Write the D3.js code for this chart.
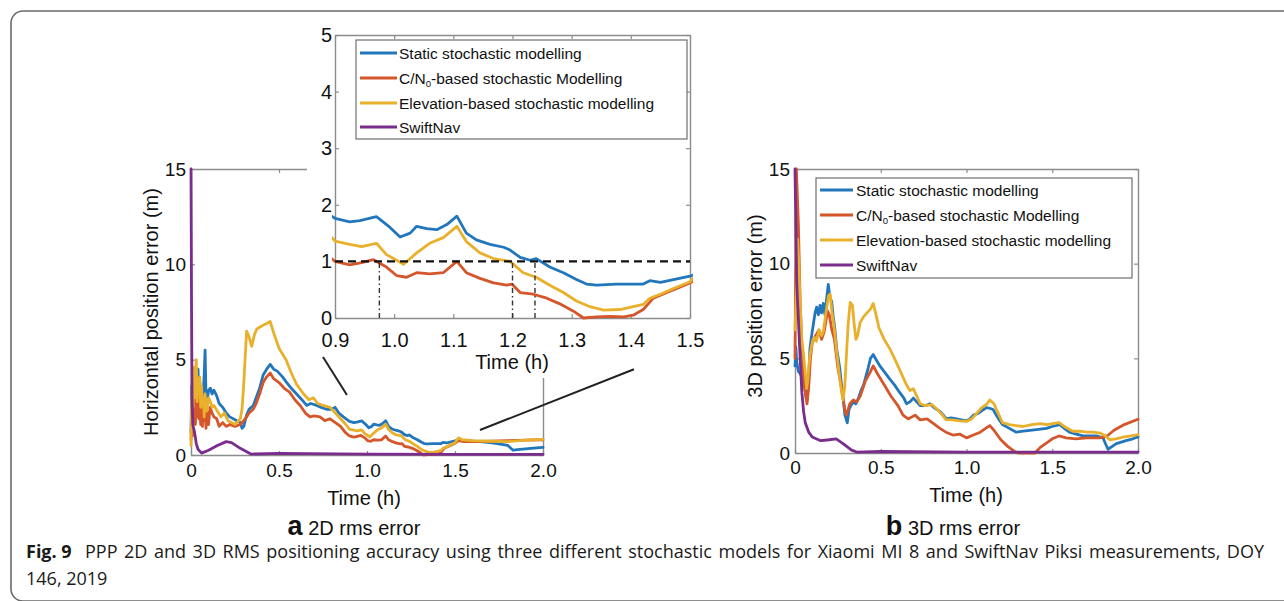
<!DOCTYPE html>
<html>
<head>
<meta charset="utf-8">
<script src="https://cdn.jsdelivr.net/npm/d3@7"></script>
<style>
  body { margin: 0; background: #fff; }
  svg { display: block; }
</style>
</head>
<body>
<svg id="fig" width="1284" height="601"></svg>
<script>
// ---------- data: [time (h), error (m)] ----------
const static2D = [[0,1.2],[0.004,3.6],[0.008,2.2],[0.012,4.1],[0.016,2.8],[0.02,4.4],[0.025,2.6],[0.03,3.9],[0.035,3.0],[0.04,4.5],[0.045,2.9],[0.05,3.8],[0.055,2.7],[0.06,3.5],[0.065,2.4],[0.07,3.3],[0.075,4.2],[0.08,5.5],[0.085,3.2],[0.09,2.6],[0.1,3.4],[0.11,3.5],[0.12,3.2],[0.13,3.4],[0.146,3.1],[0.16,2.7],[0.18,2.5],[0.2,2.2],[0.22,2.0],[0.24,1.9],[0.26,1.8],[0.28,1.7],[0.29,1.4],[0.3,1.5],[0.316,2.1],[0.33,2.4],[0.354,2.6],[0.37,3.0],[0.39,3.5],[0.41,4.2],[0.43,4.5],[0.45,4.75],[0.47,4.5],[0.49,4.4],[0.52,4.1],[0.544,3.8],[0.57,3.5],[0.6,3.2],[0.63,2.9],[0.657,2.6],[0.68,2.7],[0.714,2.6],[0.74,2.5],[0.77,2.4],[0.8,2.4],[0.818,2.5],[0.84,2.2],[0.866,2.0],[0.9,1.76],[0.925,1.70],[0.942,1.72],[0.97,1.79],[0.993,1.6],[1.01,1.43],[1.027,1.5],[1.038,1.62],[1.055,1.58],[1.072,1.56],[1.089,1.65],[1.106,1.8],[1.122,1.5],[1.139,1.38],[1.162,1.30],[1.185,1.25],[1.196,1.2],[1.213,1.07],[1.23,1.02],[1.24,1.05],[1.263,0.9],[1.286,0.8],[1.308,0.68],[1.325,0.6],[1.342,0.58],[1.376,0.6],[1.404,0.6],[1.421,0.6],[1.432,0.66],[1.45,0.63],[1.472,0.68],[1.5,0.74],[1.52,0.8],[1.547,0.75],[1.6,0.72],[1.64,0.7],[1.7,0.65],[1.74,0.6],[1.8,0.5],[1.83,0.25],[1.87,0.3],[1.93,0.35],[2.0,0.4]];

const cn02D = [[0,0.8],[0.004,2.0],[0.008,1.0],[0.012,3.0],[0.016,1.8],[0.02,3.3],[0.025,1.6],[0.03,2.8],[0.035,2.0],[0.04,3.2],[0.045,1.9],[0.05,2.9],[0.055,1.6],[0.06,2.4],[0.065,1.5],[0.07,2.6],[0.075,1.8],[0.08,2.7],[0.085,1.4],[0.09,2.3],[0.1,1.6],[0.108,2.5],[0.12,2.2],[0.13,2.0],[0.146,1.9],[0.16,1.5],[0.18,1.7],[0.2,1.5],[0.22,1.6],[0.25,1.5],[0.28,1.6],[0.3,1.8],[0.316,2.0],[0.33,2.2],[0.354,2.4],[0.37,2.7],[0.39,3.2],[0.41,3.8],[0.43,4.1],[0.45,4.3],[0.47,4.0],[0.5,3.8],[0.53,3.5],[0.56,3.3],[0.59,2.9],[0.62,2.6],[0.65,2.2],[0.676,2.0],[0.7,2.05],[0.733,2.0],[0.76,1.8],[0.79,1.9],[0.82,1.7],[0.85,1.5],[0.875,1.2],[0.9,1.0],[0.925,0.94],[0.945,0.98],[0.965,1.03],[0.987,0.9],[1.004,0.75],[1.021,0.72],[1.038,0.8],[1.06,0.78],[1.083,0.8],[1.106,1.0],[1.122,0.8],[1.145,0.7],[1.168,0.62],[1.19,0.58],[1.199,0.6],[1.213,0.45],[1.235,0.42],[1.258,0.35],[1.28,0.25],[1.303,0.12],[1.32,0.0],[1.342,0.02],[1.365,0.03],[1.388,0.02],[1.404,0.05],[1.421,0.15],[1.438,0.35],[1.461,0.45],[1.5,0.62],[1.52,0.75],[1.55,0.7],[1.6,0.7],[1.7,0.72],[1.8,0.75],[1.9,0.78],[2.0,0.8]];

const elev2D = [[0,0.5],[0.004,3.0],[0.008,4.0],[0.012,2.5],[0.016,4.6],[0.02,3.0],[0.025,4.2],[0.03,5.0],[0.035,2.8],[0.04,4.0],[0.045,3.3],[0.05,4.1],[0.055,2.5],[0.06,3.6],[0.065,2.6],[0.07,3.0],[0.075,2.0],[0.08,3.2],[0.09,2.3],[0.1,3.0],[0.11,2.8],[0.12,2.5],[0.13,2.6],[0.15,2.3],[0.17,2.0],[0.19,2.2],[0.21,1.8],[0.23,1.7],[0.25,1.6],[0.27,1.8],[0.28,1.9],[0.29,2.4],[0.3,3.8],[0.316,6.5],[0.33,6.2],[0.345,5.7],[0.36,6.3],[0.373,6.6],[0.39,6.7],[0.41,6.8],[0.43,6.9],[0.45,7.0],[0.47,6.4],[0.5,5.6],[0.54,5.0],[0.57,4.3],[0.6,3.7],[0.64,3.2],[0.67,2.9],[0.695,3.0],[0.72,2.7],[0.75,2.6],[0.79,2.5],[0.82,2.2],[0.85,1.9],[0.88,1.6],[0.9,1.36],[0.925,1.30],[0.945,1.26],[0.97,1.32],[0.987,1.12],[1.004,1.02],[1.016,0.95],[1.038,1.15],[1.06,1.32],[1.083,1.42],[1.106,1.62],[1.122,1.35],[1.145,1.15],[1.168,1.05],[1.196,1.0],[1.218,0.8],[1.24,0.72],[1.263,0.58],[1.286,0.45],[1.308,0.3],[1.331,0.2],[1.354,0.14],[1.382,0.15],[1.404,0.2],[1.421,0.24],[1.432,0.35],[1.45,0.42],[1.472,0.52],[1.5,0.64],[1.52,0.9],[1.54,0.8],[1.6,0.75],[1.7,0.72],[1.8,0.7],[1.9,0.78],[2.0,0.82]];

const swift2D = [[0,15],[0.003,8],[0.006,3],[0.01,1.6],[0.02,1.2],[0.03,0.6],[0.04,0.3],[0.06,0.1],[0.1,0.25],[0.15,0.5],[0.2,0.7],[0.23,0.65],[0.28,0.35],[0.34,0.05],[0.5,0.08],[1.0,0.05],[1.5,0.03],[2.0,0.03]];

const static3D = [[0,4.6],[0.005,5.6],[0.01,4.8],[0.02,4.3],[0.03,4.2],[0.04,4.0],[0.05,3.6],[0.058,3.4],[0.065,2.9],[0.07,2.8],[0.078,3.5],[0.087,5.5],[0.097,6.2],[0.107,6.8],[0.117,7.4],[0.126,7.7],[0.136,7.3],[0.146,7.8],[0.155,7.4],[0.165,7.9],[0.175,7.3],[0.185,8.2],[0.194,8.9],[0.204,8.2],[0.214,8.0],[0.223,7.2],[0.233,6.5],[0.243,5.5],[0.252,5.0],[0.262,4.4],[0.272,3.5],[0.282,2.8],[0.291,2.0],[0.305,1.6],[0.315,2.3],[0.325,2.5],[0.34,2.7],[0.355,2.6],[0.37,2.9],[0.385,3.3],[0.4,3.6],[0.415,4.1],[0.427,4.5],[0.44,5.0],[0.456,5.2],[0.475,4.9],[0.495,4.6],[0.52,4.3],[0.553,3.9],[0.58,3.6],[0.61,3.2],[0.635,2.9],[0.65,2.6],[0.67,2.7],[0.69,2.9],[0.71,2.7],[0.73,2.5],[0.76,2.5],[0.786,2.6],[0.81,2.4],[0.845,2.2],[0.865,2.0],[0.883,1.8],[0.91,1.85],[0.942,1.8],[0.97,1.75],[1.0,1.7],[1.02,1.8],[1.04,2.0],[1.07,2.1],[1.1,2.3],[1.117,2.4],[1.14,2.35],[1.155,2.3],[1.18,1.9],[1.21,1.5],[1.25,1.3],[1.29,1.1],[1.33,1.15],[1.37,1.2],[1.42,1.25],[1.466,1.3],[1.5,1.4],[1.544,1.5],[1.57,1.3],[1.6,1.1],[1.64,1.0],[1.68,0.9],[1.72,0.9],[1.757,0.9],[1.796,0.8],[1.81,0.5],[1.825,0.2],[1.85,0.35],[1.874,0.5],[1.93,0.65],[1.97,0.75],[2.0,0.85]];

const cn03D = [[0,5.0],[0.008,15],[0.02,12],[0.03,8],[0.04,5.5],[0.055,3.5],[0.07,2.6],[0.08,3.5],[0.09,5.0],[0.1,5.8],[0.12,6.2],[0.14,6.5],[0.155,6.0],[0.17,6.4],[0.19,7.5],[0.2,7.3],[0.215,6.5],[0.23,6.0],[0.25,4.5],[0.27,3.5],[0.29,2.3],[0.3,2.0],[0.32,2.6],[0.34,2.8],[0.36,2.7],[0.38,3.0],[0.41,3.8],[0.44,4.3],[0.456,4.6],[0.48,4.2],[0.52,3.6],[0.56,3.0],[0.6,2.5],[0.63,2.0],[0.66,1.8],[0.7,2.0],[0.73,1.75],[0.77,1.8],[0.8,1.6],[0.845,1.3],[0.88,1.1],[0.92,0.95],[0.96,1.0],[1.0,0.8],[1.04,0.95],[1.08,1.1],[1.12,1.35],[1.136,1.45],[1.16,1.2],[1.2,0.7],[1.24,0.35],[1.28,0.08],[1.3,0.0],[1.4,0.0],[1.43,0.3],[1.47,0.55],[1.5,0.75],[1.54,0.9],[1.58,0.8],[1.64,0.75],[1.7,0.8],[1.78,0.8],[1.82,0.9],[1.86,1.2],[1.92,1.5],[2.0,1.78]];

const elev3D = [[0,6.5],[0.008,8.5],[0.015,11.3],[0.022,10],[0.03,8],[0.04,6],[0.05,5.2],[0.06,4.2],[0.068,3.4],[0.075,3.9],[0.085,5.0],[0.095,5.6],[0.105,6.0],[0.115,6.1],[0.125,5.9],[0.14,6.5],[0.155,6.2],[0.165,6.4],[0.18,7.4],[0.195,8.3],[0.205,8.4],[0.215,7.5],[0.23,6.5],[0.245,5.2],[0.26,4.0],[0.272,3.2],[0.28,2.8],[0.29,3.5],[0.3,5.2],[0.31,6.8],[0.322,7.95],[0.335,7.8],[0.345,6.8],[0.355,6.0],[0.365,6.2],[0.38,6.9],[0.4,7.2],[0.42,7.4],[0.44,7.6],[0.456,7.9],[0.47,7.4],[0.49,6.6],[0.52,6.0],[0.553,5.5],[0.58,5.0],[0.61,4.4],[0.63,4.0],[0.65,3.6],[0.67,3.3],[0.69,3.4],[0.71,3.0],[0.73,2.6],[0.76,2.5],[0.8,2.55],[0.83,2.3],[0.86,2.0],[0.88,1.76],[0.92,1.75],[0.96,1.7],[1.0,1.67],[1.03,1.8],[1.06,2.1],[1.09,2.4],[1.12,2.6],[1.136,2.8],[1.16,2.6],[1.18,2.2],[1.21,1.6],[1.25,1.5],[1.29,1.45],[1.33,1.4],[1.38,1.5],[1.43,1.55],[1.47,1.5],[1.5,1.55],[1.54,1.6],[1.57,1.4],[1.62,1.15],[1.66,1.15],[1.7,1.1],[1.74,1.1],[1.78,1.05],[1.81,0.9],[1.835,0.7],[1.87,0.75],[1.92,0.85],[1.96,0.9],[2.0,0.97]];

const swift3D = [[0,15],[0.005,12],[0.01,9],[0.02,7],[0.03,5],[0.04,3.2],[0.05,2.2],[0.06,1.6],[0.08,1.1],[0.1,0.85],[0.15,0.65],[0.2,0.7],[0.24,0.75],[0.28,0.5],[0.33,0.15],[0.36,0.05],[0.5,0.08],[1.0,0.05],[2.0,0.05]];

// ---------- labels / ticks ----------
const seriesNames = ["Static stochastic modelling", "C/N0-based stochastic Modelling", "Elevation-based stochastic modelling", "SwiftNav"];
const seriesColors = ["#2276bb", "#d4562a", "#e9b02c", "#7a2d8c"];
const timeTicks = [0, 0.5, 1.0, 1.5, 2.0];
const errorTicks = [0, 5, 10, 15];
const zoomTimeTicks = [0.9, 1.0, 1.1, 1.2, 1.3, 1.4, 1.5];
const zoomErrorTicks = [0, 1, 2, 3, 4, 5];
const zoomDomain = [0.9, 1.5];
const thresholdLevel = 1;            // 1 m accuracy level
const crossingTimes = [0.975, 1.2, 1.238];  // times the curves reach 1 m
// connector strokes between the main 2D panel and its zoom, in 2D data units
const connectors = [[[0.75, 5.14], [0.886, 3.15]], [[1.642, 1.31], [2.517, 4.5]]];

const xLabel = "Time (h)";
const yLabel2D = "Horizontal position error (m)";
const yLabel3D = "3D position error (m)";
const captionTitle = "Fig. 9";
const captionLine1 = "PPP 2D and 3D RMS positioning accuracy using three different stochastic models for Xiaomi MI 8 and SwiftNav Piksi measurements, DOY";
const captionLine2 = "146, 2019";

// ---------- drawing ----------
const FONT = "'Liberation Sans', Arial, Helvetica, sans-serif";
const AXIS_COLOR = "#8c8c8c";
const svg = d3.select("#fig");
svg.append("rect").attr("width", 1284).attr("height", 601).attr("fill", "#fff");

const fmtTime = d => d === 0 ? "0" : d.toFixed(1);

function drawPanel(cfg) {
  const g = svg.append("g");
  const x = cfg.x, y = cfg.y;
  const [x0, x1] = x.range();
  const [y0, y1] = y.range();

  const style = sel => {
    sel.attr("font-family", FONT).attr("font-size", cfg.fontSize);
    sel.select(".domain").attr("stroke", AXIS_COLOR).attr("stroke-width", 1.4);
    sel.selectAll(".tick line").attr("stroke", AXIS_COLOR).attr("stroke-width", 1.2);
    sel.selectAll(".tick text").attr("fill", "#111");
  };
  g.append("g").attr("transform", `translate(0,${y0})`)
    .call(d3.axisBottom(x).tickValues(cfg.xTicks).tickFormat(cfg.xFmt)
      .tickSizeInner(-4).tickSizeOuter(0).tickPadding(cfg.padX)).call(style);
  g.append("g").attr("transform", `translate(0,${y1})`)
    .call(d3.axisTop(x).tickValues(cfg.xTicks).tickFormat(() => "")
      .tickSizeInner(-4).tickSizeOuter(0)).call(style);
  g.append("g").attr("transform", `translate(${x0},0)`)
    .call(d3.axisLeft(y).tickValues(cfg.yTicks).tickFormat(d3.format("d"))
      .tickSizeInner(-4).tickSizeOuter(0).tickPadding(cfg.padY)).call(style);
  g.append("g").attr("transform", `translate(${x1},0)`)
    .call(d3.axisRight(y).tickValues(cfg.yTicks).tickFormat(() => "")
      .tickSizeInner(-4).tickSizeOuter(0)).call(style);

  const clipId = cfg.id + "-clip";
  svg.append("clipPath").attr("id", clipId).append("rect")
    .attr("x", x0 - 3).attr("y", y1 - 3)
    .attr("width", x1 - x0 + 6).attr("height", y0 - y1 + 6);

  const line = d3.line().x(d => x(d[0])).y(d => y(d[1]));
  const lg = g.append("g").attr("clip-path", `url(#${clipId})`);
  cfg.series.forEach(s => {
    lg.append("path").datum(s.data)
      .attr("d", line)
      .attr("fill", "none")
      .attr("stroke", s.color)
      .attr("stroke-width", cfg.lineWidth)
      .attr("stroke-linejoin", "round")
      .attr("stroke-linecap", "round");
  });
  return g;
}

function drawLegend(bx, by, bw, bh, rows, lineFrom, lineTo, textAt, fontSize) {
  const g = svg.append("g").attr("font-family", FONT).attr("font-size", fontSize);
  g.append("rect").attr("x", bx).attr("y", by).attr("width", bw).attr("height", bh)
    .attr("fill", "#fff").attr("stroke", "#6f6f6f").attr("stroke-width", 1.2);
  seriesNames.forEach((name, i) => {
    const cy = by + rows[i];
    g.append("line").attr("x1", bx + lineFrom).attr("x2", bx + lineTo)
      .attr("y1", cy).attr("y2", cy)
      .attr("stroke", seriesColors[i]).attr("stroke-width", 3);
    const t = g.append("text").attr("x", bx + textAt).attr("y", cy).attr("dy", "0.36em").attr("fill", "#111");
    if (name.startsWith("C/N0")) {
      t.append("tspan").text("C/N");
      t.append("tspan").text("0").attr("font-size", fontSize * 0.62).attr("dy", fontSize * 0.25);
      t.append("tspan").text(name.slice(4)).attr("dy", -fontSize * 0.25);
    } else {
      t.text(name);
    }
  });
}

const seriesOf = arrs => arrs.map((d, i) => ({ data: d, color: seriesColors[i] }));

// ---- panel a: horizontal error ----
const xa = d3.scaleLinear().domain([0, 2]).range([191, 543]);
const ya = d3.scaleLinear().domain([0, 15]).range([455, 169]);
drawPanel({
  id: "pa", x: xa, y: ya, xTicks: timeTicks, yTicks: errorTicks, xFmt: fmtTime,
  fontSize: 19, padX: 9, padY: 5, lineWidth: 2.8,
  series: seriesOf([static2D, cn02D, elev2D, swift2D])
});
svg.append("text").attr("x", 364).attr("y", 505).attr("text-anchor", "middle")
  .attr("font-family", FONT).attr("font-size", 20).attr("fill", "#111").text(xLabel);
svg.append("text").attr("transform", "translate(151,312) rotate(-90)").attr("dy", "0.35em")
  .attr("text-anchor", "middle").attr("font-family", FONT).attr("font-size", 20).attr("fill", "#111").text(yLabel2D);

// ---- zoomed view of panel a ----
svg.append("rect").attr("x", 307).attr("y", 14).attr("width", 405).attr("height", 364).attr("fill", "#fff");
const xz = d3.scaleLinear().domain(zoomDomain).range([335, 690]);
const yz = d3.scaleLinear().domain([0, 5]).range([318, 35]);
const zoomPanel = drawPanel({
  id: "pz", x: xz, y: yz, xTicks: zoomTimeTicks, yTicks: zoomErrorTicks, xFmt: d3.format(".1f"),
  fontSize: 20, padX: 15, padY: 3, lineWidth: 2.8,
  series: seriesOf([static2D, cn02D, elev2D])
});
// 1 m reference and crossing markers
zoomPanel.append("line")
  .attr("x1", xz(zoomDomain[0])).attr("x2", xz(zoomDomain[1]))
  .attr("y1", yz(thresholdLevel)).attr("y2", yz(thresholdLevel))
  .attr("stroke", "#111").attr("stroke-width", 2.2).attr("stroke-dasharray", "8,5");
crossingTimes.forEach(t => {
  zoomPanel.append("line")
    .attr("x1", xz(t)).attr("x2", xz(t))
    .attr("y1", yz(0)).attr("y2", yz(thresholdLevel))
    .attr("stroke", "#333").attr("stroke-width", 1.4).attr("stroke-dasharray", "5,3,1.5,3");
});
svg.append("text").attr("x", 512).attr("y", 369).attr("text-anchor", "middle")
  .attr("font-family", FONT).attr("font-size", 20).attr("fill", "#111").text(xLabel);
drawLegend(356, 40, 331, 99, [13, 38, 63, 87], 4, 41, 43, 15.5);

// connectors
connectors.forEach(c => {
  svg.append("line")
    .attr("x1", xa(c[0][0])).attr("y1", ya(c[0][1]))
    .attr("x2", xa(c[1][0])).attr("y2", ya(c[1][1]))
    .attr("stroke", "#222").attr("stroke-width", 2);
});

// ---- panel b: 3D error ----
const xb = d3.scaleLinear().domain([0, 2]).range([795, 1138]);
const yb = d3.scaleLinear().domain([0, 15]).range([453, 169]);
drawPanel({
  id: "pb", x: xb, y: yb, xTicks: timeTicks, yTicks: errorTicks, xFmt: fmtTime,
  fontSize: 19, padX: 8, padY: 5, lineWidth: 2.8,
  series: seriesOf([static3D, cn03D, elev3D, swift3D])
});
svg.append("text").attr("x", 966).attr("y", 502).attr("text-anchor", "middle")
  .attr("font-family", FONT).attr("font-size", 20).attr("fill", "#111").text(xLabel);
svg.append("text").attr("transform", "translate(755,306) rotate(-90)").attr("dy", "0.35em")
  .attr("text-anchor", "middle").attr("font-family", FONT).attr("font-size", 20).attr("fill", "#111").text(yLabel3D);
drawLegend(816, 178, 316, 100, [12, 37, 62, 87], 4, 37, 40, 15.5);

// ---- panel captions ----
function panelCaption(cx, letter, text) {
  const t = svg.append("text").attr("x", cx).attr("y", 535).attr("text-anchor", "middle")
    .attr("font-family", FONT).attr("fill", "#111");
  t.append("tspan").text(letter).attr("font-weight", "bold").attr("font-size", 27);
  t.append("tspan").text("\u00a0" + text).attr("font-size", 20);
}
panelCaption(354, "a", "2D rms error");
panelCaption(953, "b", "3D rms error");

// ---- figure caption ----
const CAP_FONT = "'Open Sans', 'Noto Sans', sans-serif";
svg.append("text").attr("x", 26).attr("y", 558)
  .attr("font-family", CAP_FONT).attr("font-size", 18).attr("font-weight", "bold")
  .attr("fill", "#1a1a1a").text(captionTitle);
const cap1 = svg.append("text").attr("x", 85).attr("y", 558)
  .attr("font-family", CAP_FONT).attr("font-size", 18).attr("fill", "#1a1a1a").text(captionLine1);
const natural = cap1.node().getComputedTextLength();
const gaps = captionLine1.split(" ").length - 1;
cap1.attr("word-spacing", Math.max(0, (1264 - 85 - natural) / gaps));
svg.append("text").attr("x", 26).attr("y", 585)
  .attr("font-family", CAP_FONT).attr("font-size", 18).attr("fill", "#1a1a1a").text(captionLine2);

// ---- outer frame (open on the right) ----
svg.append("path")
  .attr("d", "M1290,11 H23 A12,12 0 0 0 11,23 V589 A12,12 0 0 0 23,601 H1290")
  .attr("fill", "none").attr("stroke", "#6a6a6a").attr("stroke-width", 1.6);
</script>
</body>
</html>
